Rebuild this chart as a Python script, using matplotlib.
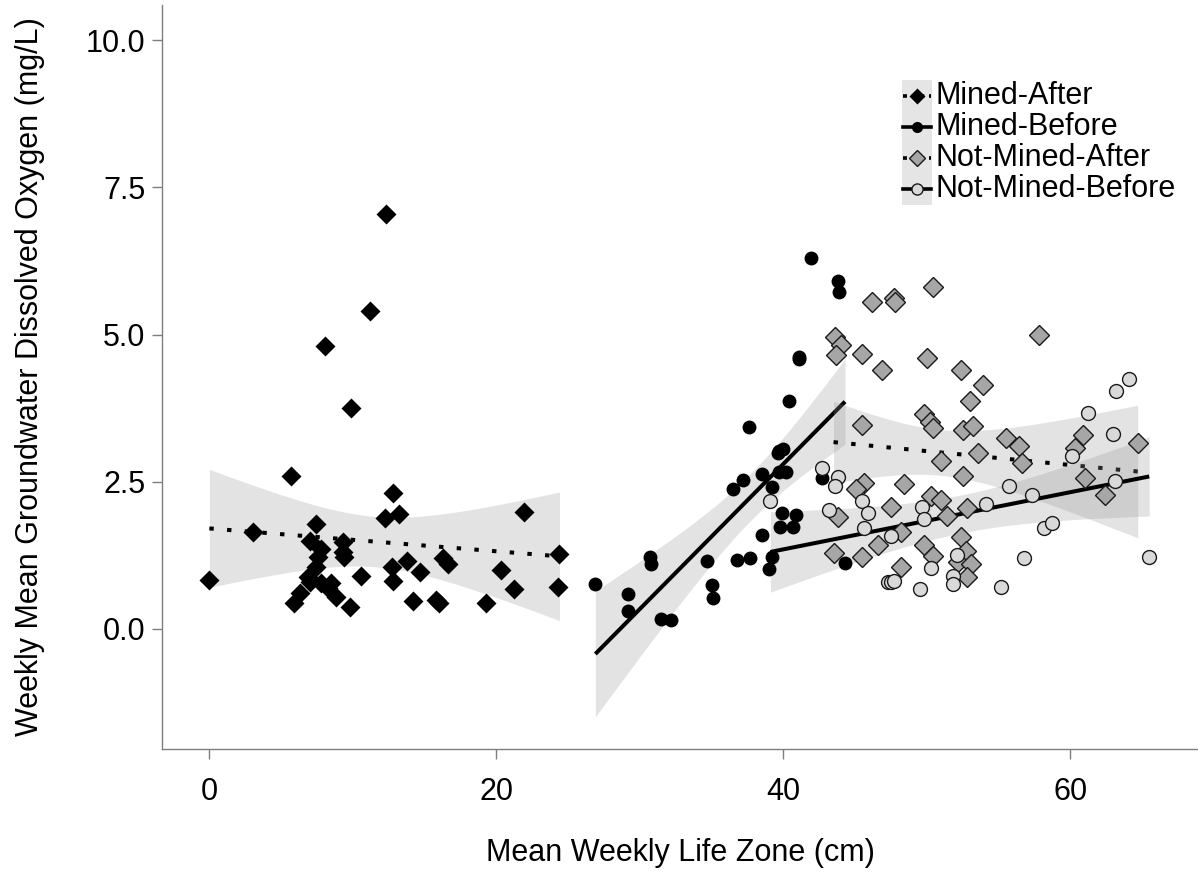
import numpy as np
import matplotlib
matplotlib.use("Agg")
import matplotlib.pyplot as plt
from matplotlib.lines import Line2D
from matplotlib.patches import Rectangle

plt.rcParams['font.family'] = ['Liberation Sans', 'DejaVu Sans']

# ---- data: mean weekly life zone (cm) vs weekly mean groundwater DO (mg/L)
mined_after_x = [12.3, 11.2, 8.07, 9.9, 5.7, 12.8, 12.25, 13.2, 21.9, 3.06,
                 7.4, 7.0, 9.3, 9.4, 7.8, 7.6, 7.45, 9.3, 24.4, 13.8,
                 12.7, 16.3, 16.6, 14.7, 10.6, 20.3, 0.0, 6.9, 7.0, 7.8,
                 8.5, 8.3, 12.8, 21.2, 24.3, 6.3, 5.9, 8.8, 9.8, 14.2,
                 15.8, 16.0, 19.3]
mined_after_y = [7.05, 5.40, 4.80, 3.75, 2.60, 2.31, 1.88, 1.95, 1.99, 1.65,
                 1.78, 1.49, 1.48, 1.23, 1.35, 1.23, 1.06, 1.30, 1.27, 1.16,
                 1.06, 1.20, 1.11, 0.97, 0.90, 1.00, 0.83, 0.88, 0.80, 0.78,
                 0.78, 0.70, 0.81, 0.68, 0.71, 0.61, 0.44, 0.54, 0.37, 0.48,
                 0.49, 0.44, 0.44]

mined_before_x = [26.9, 29.2, 29.2, 30.7, 30.8, 31.5, 32.2, 34.7, 35.0, 35.1,
                  36.5, 36.8, 37.2, 37.6, 37.7, 38.5, 38.5, 39.0, 39.2, 39.2,
                  39.6, 39.7, 40.0, 39.7, 40.2, 39.9, 40.9, 39.8, 40.7, 40.4,
                  41.1, 41.1, 41.9, 42.7, 43.8, 43.9, 44.3]
mined_before_y = [0.76, 0.59, 0.31, 1.22, 1.10, 0.17, 0.15, 1.15, 0.75, 0.53,
                  2.37, 1.17, 2.53, 3.43, 1.21, 2.63, 1.60, 1.02, 1.22, 2.41,
                  2.99, 3.02, 3.06, 2.67, 2.67, 1.97, 1.94, 1.73, 1.73, 3.87,
                  4.62, 4.58, 6.30, 2.56, 5.91, 5.72, 1.12]

not_mined_after_x = [50.4, 46.2, 47.7, 47.8, 57.8, 43.6, 44.0, 43.7, 45.5, 50.0,
                     46.9, 52.4, 53.9, 53.0, 49.8, 50.2, 50.4, 45.5, 52.5, 53.2,
                     55.5, 56.4, 60.9, 60.3, 64.7, 53.6, 51.0, 56.6, 52.5, 61.0,
                     62.4, 45.6, 45.1, 48.4, 50.3, 51.0, 47.5, 43.8, 52.8, 51.4,
                     48.2, 46.6, 49.8, 52.4, 43.5, 45.5, 50.4, 52.7, 52.2, 53.1,
                     48.2, 52.8]
not_mined_after_y = [5.81, 5.55, 5.62, 5.55, 4.99, 4.96, 4.82, 4.65, 4.67, 4.60,
                     4.40, 4.40, 4.14, 3.87, 3.65, 3.51, 3.41, 3.46, 3.38, 3.45,
                     3.24, 3.11, 3.29, 3.07, 3.16, 2.99, 2.85, 2.82, 2.60, 2.56,
                     2.28, 2.48, 2.38, 2.46, 2.26, 2.19, 2.07, 1.90, 2.05, 1.92,
                     1.65, 1.43, 1.43, 1.56, 1.29, 1.22, 1.24, 1.32, 1.14, 1.10,
                     1.05, 0.88]

not_mined_before_x = [64.1, 63.2, 61.2, 63.0, 60.1, 63.1, 42.7, 43.8, 43.6, 55.7,
                      57.3, 54.1, 39.1, 45.5, 49.7, 49.8, 43.2, 45.9, 45.6, 47.5,
                      58.2, 58.7, 56.8, 65.5, 52.1, 50.3, 51.8, 51.8, 47.3, 47.5,
                      47.7, 49.5, 55.2]
not_mined_before_y = [4.24, 4.04, 3.67, 3.31, 2.94, 2.51, 2.73, 2.58, 2.43, 2.43,
                      2.28, 2.12, 2.17, 2.17, 2.07, 1.87, 2.02, 1.97, 1.71, 1.58,
                      1.71, 1.80, 1.21, 1.22, 1.26, 1.04, 0.90, 0.77, 0.80, 0.80,
                      0.81, 0.68, 0.71]

group_names = ["Mined-After", "Mined-Before", "Not-Mined-After", "Not-Mined-Before"]
x_ticks = [0, 20, 40, 60]
y_ticks = [0.0, 2.5, 5.0, 7.5, 10.0]

groups = [
    dict(x=mined_after_x, y=mined_after_y, marker='D', face='black', edge='none',
         ms=10.5, ls='dotted'),
    dict(x=mined_before_x, y=mined_before_y, marker='o', face='black', edge='none',
         ms=10.0, ls='solid'),
    dict(x=not_mined_after_x, y=not_mined_after_y, marker='D', face='#a6a6a6',
         edge='#1a1a1a', ms=10.0, ls='dotted'),
    dict(x=not_mined_before_x, y=not_mined_before_y, marker='o', face='#d9d9d9',
         edge='#1a1a1a', ms=10.0, ls='solid'),
]


def t975(dof):
    # Cornish-Fisher expansion of the Student t 97.5% quantile
    z = 1.959964
    return (z + (z**3 + z) / (4 * dof)
            + (5 * z**5 + 16 * z**3 + 3 * z) / (96 * dof**2)
            + (3 * z**7 + 19 * z**5 + 17 * z**3 - 15 * z) / (384 * dof**3))


def linear_fit(x, y, n=100):
    x = np.asarray(x, float)
    y = np.asarray(y, float)
    slope, icpt = np.polyfit(x, y, 1)
    xs = np.linspace(x.min(), x.max(), n)
    fit = icpt + slope * xs
    resid = y - (icpt + slope * x)
    dof = len(x) - 2
    s = np.sqrt(np.sum(resid**2) / dof)
    sxx = np.sum((x - x.mean())**2)
    se = s * np.sqrt(1.0 / len(x) + (xs - x.mean())**2 / sxx)
    t = t975(dof)
    return xs, fit, fit - t * se, fit + t * se


W, H = 1198, 875
fig = plt.figure(figsize=(W / 100, H / 100), dpi=100)
ax = fig.add_axes([162 / W, 126 / H, 1036 / W, 744 / H])

dash = (1.1, 3.3)
z = 1
for g in groups:
    xs, fit, lo, hi = linear_fit(g['x'], g['y'])
    ax.fill_between(xs, lo, hi, color='#999999', alpha=0.27, lw=0, zorder=z)
    kw = dict(dashes=dash, dash_capstyle='butt') if g['ls'] == 'dotted' else {}
    ax.plot(xs, fit, color='black', lw=2.9, zorder=z + 1, solid_capstyle='butt', **kw)
    z += 2

for g in groups:
    ax.plot(g['x'], g['y'], ls='none', marker=g['marker'], ms=g['ms'],
            mfc=g['face'], mec=g['edge'], mew=1.0, zorder=20)

ax.set_xlim(-3.3, 68.9)
ax.set_ylim(-2.04, 10.6)
ax.set_xticks(x_ticks)
ax.set_xticklabels([str(v) for v in x_ticks])
ax.set_yticks(y_ticks)
ax.set_yticklabels([f"{v:.1f}" for v in y_ticks])

for side in ['top', 'right']:
    ax.spines[side].set_visible(False)
for side in ['left', 'bottom']:
    ax.spines[side].set_color('#7f7f7f')
    ax.spines[side].set_linewidth(1.0)
ax.tick_params(axis='both', colors='#7f7f7f', labelcolor='black', length=7,
               width=1.0, labelsize=22)
ax.tick_params(axis='x', pad=13)
ax.tick_params(axis='y', pad=5)

ax.set_xlabel("Mean Weekly Life Zone (cm)", fontsize=22)
ax.xaxis.set_label_coords(0.5, (749 - 853) / 744)
ax.xaxis.label.set_verticalalignment('center')
ax.set_ylabel("Weekly Mean Groundwater Dissolved Oxygen (mg/L)", fontsize=22)
ax.yaxis.set_label_coords((30 - 162) / 1036, 0.5)
ax.yaxis.label.set_verticalalignment('center')

# legend: grey key column with line + marker, labels to the right
def fx(px):
    return px / W


def fy(py):
    return (H - py) / H


fig.patches.append(Rectangle((fx(902), fy(205)), 30 / W, 125 / H,
                             transform=fig.transFigure, facecolor='#e5e5e5',
                             edgecolor='none', zorder=5))
rows = [96, 127, 158, 189]
for g, name, ry in zip(groups, group_names, rows):
    kw = dict(dashes=(1.1, 1.3), dash_capstyle='butt') if g['ls'] == 'dotted' else {}
    fig.lines.append(Line2D([fx(903), fx(931)], [fy(ry), fy(ry)],
                            transform=fig.transFigure, color='black', lw=2.6,
                            zorder=6, **kw))
    fig.lines.append(Line2D([fx(917)], [fy(ry)], transform=fig.transFigure,
                            ls='none', marker=g['marker'], ms=8.5 if g['marker'] == 'D' else 8,
                            mfc=g['face'], mec=g['edge'], mew=1.0, zorder=7))
    fig.text(fx(935), fy(ry), name, fontsize=22, va='center', ha='left')

fig.savefig("out.png", dpi=100)
